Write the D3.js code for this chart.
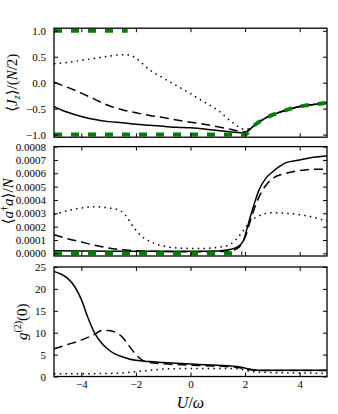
<!DOCTYPE html>
<html><head><meta charset="utf-8">
<script src="https://cdn.jsdelivr.net/npm/d3@7"></script>
<style>body{margin:0;background:#fff}svg{display:block}</style>
</head><body><svg id="c" width="338" height="414"></svg>
<script>
// ---------- DATA ----------
const xTicks = [-4, -2, 0, 2, 4];
const jzTicks = [1.0, 0.5, 0.0, -0.5, -1.0];
const nTicks = [0, 0.0001, 0.0002, 0.0003, 0.0004, 0.0005, 0.0006, 0.0007, 0.0008];
const gTicks = [0, 5, 10, 15, 20, 25];

// Panel 1: <Jz>/(N/2)
const jzSolidU = [-5,-4.5,-4,-3.5,-3,-2.5,-2,-1.5,-1,-0.5,0,0.5,1,1.5,2,2.25,2.5,2.75,3,3.5,4,4.5,5];
const jzSolidV = [-0.46,-0.57,-0.65,-0.71,-0.75,-0.77,-0.80,-0.82,-0.84,-0.86,-0.87,-0.89,-0.92,-0.95,-0.97,-0.86,-0.76,-0.68,-0.62,-0.53,-0.46,-0.42,-0.39];
const jzDashU = [-5,-4.5,-4,-3.5,-3,-2.5,-2,-1.5,-1,-0.5,0,0.5,1,1.5,2,2.25,2.5,2.75,3,3.5,4,4.5,5];
const jzDashV = [0.01,-0.09,-0.20,-0.32,-0.44,-0.52,-0.58,-0.63,-0.67,-0.72,-0.76,-0.80,-0.85,-0.90,-0.95,-0.86,-0.76,-0.68,-0.62,-0.53,-0.46,-0.42,-0.39];
const jzDotU = [-5,-4.5,-4,-3.5,-3,-2.5,-2.2,-2,-1.5,-1,-0.5,0,0.5,1,1.5,2,2.25,2.5,2.75,3,3.5,4,4.5,5];
const jzDotV = [0.37,0.39,0.43,0.47,0.51,0.54,0.53,0.47,0.25,0.09,-0.06,-0.21,-0.37,-0.53,-0.75,-0.90,-0.86,-0.76,-0.68,-0.62,-0.53,-0.46,-0.42,-0.39];
const jzGreenLowU = [-5,-4,-3,-2,-1,0,1,2,2.25,2.5,2.75,3,3.5,4,4.5,5];
const jzGreenLowV = [-1,-1,-1,-1,-1,-1,-1,-1,-0.86,-0.76,-0.68,-0.62,-0.53,-0.46,-0.42,-0.39];
const jzGreenHighU = [-5,-2.3];
const jzGreenHighV = [1,1];

// Panel 2: <a†a>/N
const nSolidU = [-5,-4,-3,-2,-1,0,1,1.5,1.8,1.95,2.05,2.2,2.35,2.5,2.75,3,3.25,3.5,4,4.5,5];
const nSolidV = [0.00002,0.000018,0.000016,0.000015,0.000015,0.000015,0.000018,0.00003,0.00006,0.0001,0.00017,0.00028,0.00038,0.00047,0.00056,0.00061,0.00065,0.00068,0.00070,0.00072,0.00073];
const nDashU = [-5,-4.5,-4,-3.5,-3,-2.5,-2,-1,0,1,1.5,1.8,2,2.2,2.4,2.6,2.8,3,3.5,4,4.5,5];
const nDashV = [0.00014,0.00011,0.000085,0.00006,0.00004,0.000027,0.00002,0.000013,0.000012,0.000013,0.00002,0.00005,0.00012,0.00025,0.00037,0.00046,0.00052,0.00056,0.0006,0.00062,0.00063,0.00063];
const nDotU = [-5,-4.5,-4,-3.5,-3,-2.7,-2.4,-2.1,-1.8,-1.5,-1,-0.5,0,0.5,1,1.3,1.6,1.9,2.2,2.5,3,3.5,4,4.5,5];
const nDotV = [0.00029,0.00032,0.00034,0.00035,0.00034,0.00033,0.00029,0.0002,0.00013,0.00009,0.000055,0.00004,0.000037,0.000037,0.000045,0.000055,0.00009,0.00016,0.00024,0.00028,0.000305,0.0003,0.00029,0.00027,0.00024];
const nGreenU = [-5,1.9];
const nGreenV = [0,0];

// Panel 3: g2(0)
const gSolidU = [-5,-4.75,-4.5,-4.25,-4,-3.75,-3.5,-3.25,-3,-2.75,-2.5,-2.25,-2,-1.5,-1,-0.5,0,0.5,1,1.5,1.8,2,2.25,2.5,3,4,5];
const gSolidV = [24,23.4,22.4,20.6,17.6,13.3,9.8,7.6,6.1,5.1,4.5,4.0,3.7,3.4,3.2,3.0,2.85,2.7,2.55,2.4,2.2,1.9,1.6,1.45,1.4,1.4,1.4];
const gDashU = [-5,-4.5,-4,-3.5,-3.25,-3,-2.75,-2.5,-2.25,-2,-1.75,-1.5,-1,0,1,1.5,1.8,2,2.25,2.5,5];
const gDashV = [6.3,7.3,8.3,9.7,10.5,10.5,10.1,9.0,7.0,5.0,3.7,3.2,2.9,2.6,2.35,2.2,2.0,1.7,1.5,1.4,1.35];
const gDotU = [-5,-3,-2.5,-2,-1.5,-1,-0.5,0,1,1.8,2,2.3,3,4,5];
const gDotV = [0.6,0.7,0.8,1.1,1.4,1.7,1.8,1.85,1.85,1.75,1.4,1.1,0.9,0.8,0.75];

// ---------- DRAW ----------
const svg = d3.select('#c');
const FONT = '"Liberation Serif", "DejaVu Serif", serif';
const x = d3.scaleLinear().domain([-5, 5]).range([54, 327]);
const zip = (u, v) => u.map((d, i) => [d, v[i]]);

const panels = [
  {top: 28.2, bottom: 137.2, dom: [-1.05, 1.05], ticks: jzTicks, fmt: d3.format('.1f'),
   series: [
     {u: jzSolidU, v: jzSolidV, st: 'solid'},
     {u: jzDashU, v: jzDashV, st: 'dash'},
     {u: jzDotU, v: jzDotV, st: 'dot'},
     {u: jzGreenLowU, v: jzGreenLowV, st: 'green'},
     {u: jzGreenHighU, v: jzGreenHighV, st: 'green'}],
   label: 'jz', labelX: 17},
  {top: 146.6, bottom: 256, dom: [-0.00002, 0.0008], ticks: nTicks, fmt: d3.format('.4f'),
   series: [
     {u: nSolidU, v: nSolidV, st: 'solid'},
     {u: nDashU, v: nDashV, st: 'dash'},
     {u: nDotU, v: nDotV, st: 'dot'},
     {u: nGreenU, v: nGreenV, st: 'green'}],
   label: 'n', labelX: 13},
  {top: 267, bottom: 376.5, dom: [0, 25], ticks: gTicks, fmt: d3.format('d'),
   series: [
     {u: gSolidU, v: gSolidV, st: 'solid'},
     {u: gDashU, v: gDashV, st: 'dash'},
     {u: gDotU, v: gDotV, st: 'dot'}],
   label: 'g', labelX: 27, xlabels: true}
];

const styles = {
  solid: {stroke: '#000', w: 1.5, dash: null},
  dash: {stroke: '#000', w: 1.5, dash: '9,5'},
  dot: {stroke: '#000', w: 1.5, dash: '1.5,4.2'},
  green: {stroke: '#008000', w: 4, dash: '8,9'}
};

panels.forEach((p, pi) => {
  const y = d3.scaleLinear().domain(p.dom).range([p.bottom, p.top]);
  const g = svg.append('g');
  const cid = 'clip' + pi;
  svg.append('clipPath').attr('id', cid).append('rect')
    .attr('x', x.range()[0]).attr('y', p.top)
    .attr('width', x.range()[1] - x.range()[0]).attr('height', p.bottom - p.top);

  const line = d3.line().x(d => x(d[0])).y(d => y(d[1])).curve(d3.curveMonotoneX);
  const lg = g.append('g').attr('clip-path', `url(#${cid})`);
  p.series.forEach(s => {
    const st = styles[s.st];
    lg.append('path').datum(zip(s.u, s.v)).attr('d', line)
      .attr('fill', 'none').attr('stroke', st.stroke).attr('stroke-width', st.w)
      .attr('stroke-dasharray', st.dash).attr('stroke-linejoin', 'round');
  });

  const left = d3.axisLeft(y).tickValues(p.ticks).tickSizeInner(-4).tickSizeOuter(0).tickPadding(8).tickFormat(d => p.fmt(d).replace('-', '\u2212'));
  const right = d3.axisRight(y).tickValues(p.ticks).tickSizeInner(-4).tickSizeOuter(0).tickFormat('');
  const bottom = d3.axisBottom(x).tickValues(xTicks).tickSizeInner(-4).tickSizeOuter(0).tickPadding(4)
    .tickFormat(p.xlabels ? (d => d3.format('d')(d).replace('-', '\u2212')) : '');
  const top = d3.axisTop(x).tickValues(xTicks).tickSizeInner(-4).tickSizeOuter(0).tickFormat('');
  const ax = [
    g.append('g').attr('transform', `translate(${x.range()[0]},0)`).call(left),
    g.append('g').attr('transform', `translate(${x.range()[1]},0)`).call(right),
    g.append('g').attr('transform', `translate(0,${p.bottom})`).call(bottom),
    g.append('g').attr('transform', `translate(0,${p.top})`).call(top)
  ];
  ax.forEach(a => {
    a.select('.domain').remove();
    a.selectAll('line').attr('stroke', '#000').attr('stroke-width', 1);
    a.selectAll('text').attr('font-family', FONT).attr('font-size', 11).attr('fill', '#000');
  });
  g.append('rect').attr('x', x.range()[0]).attr('y', p.top)
    .attr('width', x.range()[1] - x.range()[0]).attr('height', p.bottom - p.top)
    .attr('fill', 'none').attr('stroke', '#000').attr('stroke-width', 1.3);

  const cy = (p.top + p.bottom) / 2;
  const t = svg.append('text').attr('transform', `translate(${p.labelX},${cy}) rotate(-90)`)
    .attr('text-anchor', 'middle').attr('font-family', FONT).attr('font-size', 15).attr('fill', '#000');
  if (p.label === 'jz') {
    t.append('tspan').text('\u27E8');
    t.append('tspan').attr('font-style', 'italic').text('J');
    t.append('tspan').attr('font-style', 'italic').attr('font-size', 10).attr('dy', 3).text('z');
    t.append('tspan').attr('dy', -3).text('\u27E9/(');
    t.append('tspan').attr('font-style', 'italic').text('N');
    t.append('tspan').text('/2)');
  } else if (p.label === 'n') {
    t.append('tspan').text('\u27E8');
    t.append('tspan').attr('font-style', 'italic').text('a');
    t.append('tspan').attr('font-size', 10).attr('dy', -5).text('\u2020');
    t.append('tspan').attr('font-style', 'italic').attr('dy', 5).text('a');
    t.append('tspan').text('\u27E9/');
    t.append('tspan').attr('font-style', 'italic').text('N');
  } else {
    t.append('tspan').attr('font-style', 'italic').text('g');
    t.append('tspan').attr('font-size', 10).attr('dy', -6).text('(2)');
    t.append('tspan').attr('dy', 6).text('(0)');
  }
});

const xl = svg.append('text').attr('x', (x.range()[0] + x.range()[1]) / 2).attr('y', 408)
  .attr('text-anchor', 'middle').attr('font-family', FONT).attr('font-size', 16).attr('fill', '#000');
xl.append('tspan').attr('font-style', 'italic').text('U');
xl.append('tspan').text('/');
xl.append('tspan').attr('font-style', 'italic').text('\u03C9');
</script></body></html>
